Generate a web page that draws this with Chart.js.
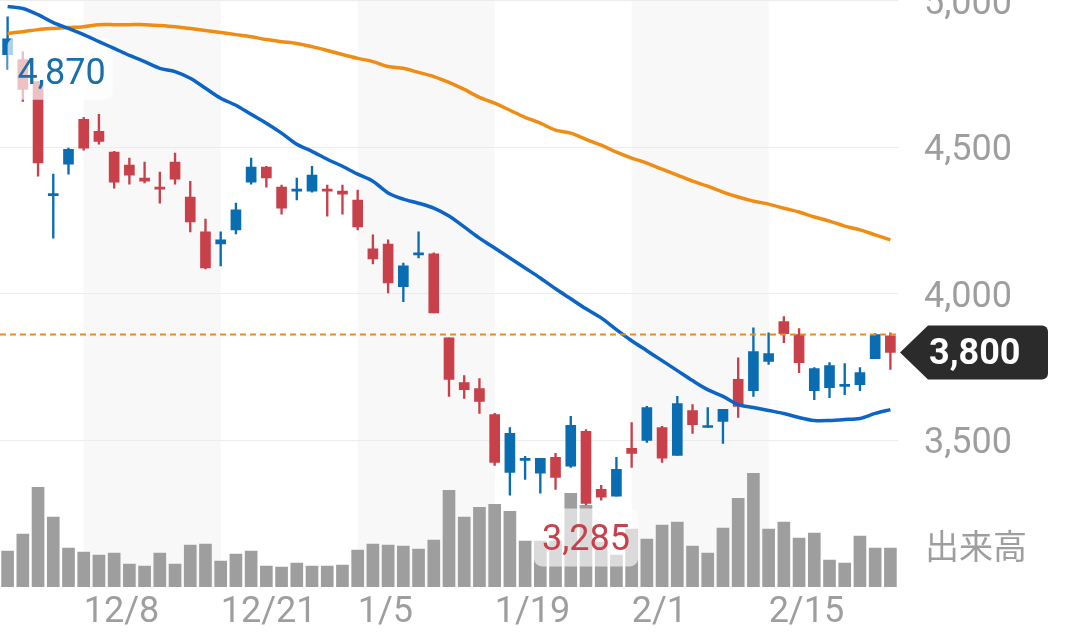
<!DOCTYPE html>
<html>
<head>
<meta charset="utf-8">
<script src="https://cdn.jsdelivr.net/npm/chart.js@4.4.1/dist/chart.umd.min.js"></script>
<style>
  html, body { margin: 0; padding: 0; background: #fff; overflow: hidden; }
  #wrap { position: absolute; left: 0; top: -47px; width: 1080px; height: 688px; }
</style>
</head>
<body>
<div id="wrap"><canvas id="chart"></canvas></div>
<script>
// 日足データ
const dates = ['12/1','12/2','12/3','12/4','12/7','12/8','12/9','12/10','12/11','12/14',
  '12/15','12/16','12/17','12/18','12/21','12/22','12/23','12/24','12/25','12/28',
  '12/29','12/30','1/4','1/5','1/6','1/7','1/8','1/12','1/13','1/14',
  '1/15','1/18','1/19','1/20','1/21','1/22','1/25','1/26','1/27','1/28',
  '1/29','2/1','2/2','2/3','2/4','2/5','2/8','2/9','2/10','2/12',
  '2/15','2/16','2/17','2/18','2/19','2/22','2/24','2/25','2/26'];
const opens = [4816,4799,4724,4335,4442,4595,4554,4483,4439,4395,
  4364,4449,4330,4211,4170,4218,4381,4432,4364,4350,
  4350,4357,4350,4320,4153,4170,4024,4133,4136,3850,
  3697,3677,3588,3391,3432,3388,3442,3412,3531,3333,
  3310,3473,3500,3544,3449,3602,3544,3565,3708,3670,
  3769,3905,3861,3670,3680,3684,3690,3779,3857];
const highs = [4945,4826,4724,4408,4497,4602,4612,4486,4463,4449,
  4415,4480,4384,4255,4211,4309,4463,4435,4371,4395,
  4435,4371,4371,4354,4201,4184,4105,4211,4140,3850,
  3721,3711,3592,3544,3446,3439,3456,3582,3537,3347,
  3442,3561,3616,3548,3650,3622,3612,3606,3782,3884,
  3867,3922,3881,3748,3765,3762,3748,3864,3867];
const lows = [4765,4656,4401,4190,4408,4490,4510,4360,4374,4378,
  4309,4374,4211,4085,4095,4204,4374,4364,4272,4320,
  4347,4265,4272,4218,4102,4003,3973,4122,3935,3650,
  3643,3592,3415,3313,3367,3320,3333,3408,3280,3296,
  3310,3408,3493,3425,3449,3524,3544,3490,3578,3650,
  3759,3833,3731,3639,3646,3656,3670,3779,3742];
const closes = [4870,4697,4446,4340,4493,4497,4520,4381,4405,4384,
  4357,4391,4245,4088,4184,4286,4432,4395,4292,4355,
  4405,4350,4340,4228,4119,4037,4095,4139,3935,3708,
  3673,3633,3425,3524,3439,3439,3374,3551,3285,3306,
  3401,3456,3612,3439,3626,3554,3548,3606,3616,3803,
  3796,3864,3765,3745,3755,3687,3731,3861,3800];
// 出来高（千株）
const volumes = [360,530,1000,700,390,350,320,340,230,210,
  340,230,420,430,260,330,360,210,200,240,
  210,210,220,370,430,420,410,380,470,970,
  700,800,830,760,460,460,460,940,820,450,
  320,580,480,620,650,410,340,590,890,1140,
  580,650,490,540,270,240,510,390,390];
const ma25 = [4980,4973,4952,4925,4905,4884,4860,4837,4813,4792,
  4769,4758,4735,4701,4667,4643,4612,4582,4548,4510,
  4486,4459,4435,4408,4384,4344,4323,4309,4292,4265,
  4228,4190,4156,4122,4088,4054,4017,3983,3949,3918,
  3878,3840,3806,3772,3738,3704,3673,3650,3622,3612,
  3602,3592,3578,3568,3568,3571,3575,3592,3605];
const ma75 = [4888,4894,4901,4905,4908,4911,4918,4918,4918,4918,
  4915,4911,4905,4898,4891,4884,4877,4867,4860,4854,
  4843,4830,4816,4803,4792,4775,4769,4755,4741,4721,
  4697,4670,4650,4626,4602,4582,4558,4548,4527,4507,
  4483,4463,4446,4425,4405,4384,4367,4347,4330,4316,
  4306,4292,4279,4262,4248,4231,4218,4201,4184];
const dateTicks = ['12/8','12/21','1/5','1/19','2/1','2/15'];
const priceTicks = [3500, 4000, 4500, 5000];

const UP = '#0a6db1';
const DOWN = '#c8404a';
const GRAY = '#9e9e9e';
const candleColors = closes.map((c, i) => c >= opens[i] ? UP : DOWN);
const fmt = v => v.toLocaleString('en-US');

function roundRect(ctx, x, y, w, h, r) {
    ctx.beginPath();
    ctx.moveTo(x + r, y);
    ctx.arcTo(x + w, y, x + w, y + h, r);
    ctx.arcTo(x + w, y + h, x, y + h, r);
    ctx.arcTo(x, y + h, x, y, r);
    ctx.arcTo(x, y, x + w, y, r);
    ctx.closePath();
}

// 2週ごとの背景帯
const bandsPlugin = {
    id: 'bands',
    beforeDraw(chart) {
        const {ctx, chartArea, scales} = chart;
        ctx.save();
        ctx.fillStyle = '#f8f8f8';
        for (let k = 0; k + 1 < dateTicks.length; k += 2) {
            const x1 = scales.x.getPixelForValue(dates.indexOf(dateTicks[k]));
            const x2 = scales.x.getPixelForValue(dates.indexOf(dateTicks[k + 1]));
            ctx.fillRect(x1, chartArea.top, x2 - x1, chartArea.bottom - chartArea.top);
        }
        ctx.restore();
    }
};

// 高値・安値ラベル（ローソク足の上、移動平均線の下）
const labelPlugin = {
    id: 'extremes',
    afterDatasetDraw(chart, args) {
        if (args.meta.label !== 'body') return;
        const {ctx, scales} = chart;
        const x = scales.x, y = scales.y;
        ctx.save();
        ctx.font = '36px Roboto';
        ctx.textBaseline = 'middle';
        ctx.fillStyle = 'rgba(255,255,255,0.68)';

        const hiVal = Math.max(...closes), hiIdx = closes.indexOf(hiVal);
        const hx = x.getPixelForValue(hiIdx) + 10;
        const hy = y.getPixelForValue(hiVal) + 33;
        roundRect(ctx, hx - 10, hy - 34, 105, 62, 8);
        ctx.fill();

        const loVal = Math.min(...closes), loIdx = closes.indexOf(loVal);
        const lx = x.getPixelForValue(loIdx);
        const ly = y.getPixelForValue(loVal) + 34;
        ctx.fillStyle = 'rgba(255,255,255,0.62)';
        roundRect(ctx, lx - 52, ly - 29, 104, 58, 8);
        ctx.fill();

        ctx.fillStyle = '#1a6fa8';
        ctx.textAlign = 'left';
        ctx.fillText(fmt(hiVal), hx, hy + 3);
        ctx.fillStyle = DOWN;
        ctx.textAlign = 'center';
        ctx.fillText(fmt(loVal), lx, ly + 4);
        ctx.restore();
    }
};

// 前日終値ライン、価格目盛、現在値タグ、出来高ラベル
const overlayPlugin = {
    id: 'overlay',
    afterDatasetsDraw(chart) {
        const {ctx, chartArea, scales} = chart;
        const py = scales.y.getPixelForValue(closes[closes.length - 2]);
        ctx.save();
        ctx.strokeStyle = '#ec8c1c';
        ctx.lineWidth = 2;
        ctx.setLineDash([6, 4]);
        ctx.beginPath();
        ctx.moveTo(chartArea.left, py);
        ctx.lineTo(chartArea.right, py);
        ctx.stroke();
        ctx.restore();
    },
    afterDraw(chart) {
        const {ctx, chartArea, scales} = chart;
        ctx.save();
        ctx.textAlign = 'left';
        ctx.textBaseline = 'middle';

        ctx.fillStyle = GRAY;
        ctx.font = '36px Roboto';
        scales.y.ticks.forEach(t => {
            ctx.fillText(fmt(t.value), chartArea.right + 26, scales.y.getPixelForValue(t.value) + 4);
        });

        const last = closes[closes.length - 1];
        const cy = scales.y.getPixelForValue(last);
        const x0 = chartArea.right + 2;
        ctx.fillStyle = '#2b2b2b';
        ctx.beginPath();
        ctx.moveTo(x0, cy);
        ctx.lineTo(x0 + 28, cy - 27);
        ctx.lineTo(x0 + 142, cy - 27);
        ctx.arcTo(x0 + 148, cy - 27, x0 + 148, cy - 21, 6);
        ctx.lineTo(x0 + 148, cy + 21);
        ctx.arcTo(x0 + 148, cy + 27, x0 + 142, cy + 27, 6);
        ctx.lineTo(x0 + 28, cy + 27);
        ctx.closePath();
        ctx.fill();
        ctx.fillStyle = '#fff';
        ctx.font = 'bold 36px Roboto';
        ctx.fillText(fmt(last), x0 + 29, cy + 3);

        ctx.fillStyle = GRAY;
        ctx.font = '34px "Noto Sans CJK JP"';
        ctx.fillText('出来高', chartArea.right + 27, chartArea.bottom - 41);
        ctx.restore();
    }
};

new Chart(document.getElementById('chart'), {
    data: {
        labels: dates,
        datasets: [
            {
                type: 'line', label: '25日', data: ma25, yAxisID: 'y',
                borderColor: '#0b64c6', borderWidth: 3.5, pointRadius: 0, tension: 0.3, order: 0
            },
            {
                type: 'line', label: '75日', data: ma75, yAxisID: 'y',
                borderColor: '#f08c14', borderWidth: 3.5, pointRadius: 0, tension: 0.3, order: 0
            },
            {
                type: 'bar', label: 'body', data: opens.map((o, i) => [o, closes[i]]), yAxisID: 'y',
                backgroundColor: candleColors, barThickness: 10, minBarLength: 2, grouped: false, order: 1
            },
            {
                type: 'bar', label: 'wick', data: lows.map((l, i) => [l, highs[i]]), yAxisID: 'y',
                backgroundColor: candleColors, barThickness: 1.7, grouped: false, order: 2
            },
            {
                type: 'bar', label: '出来高', data: volumes, yAxisID: 'vol',
                backgroundColor: GRAY, barThickness: 12, grouped: false, order: 5
            }
        ]
    },
    options: {
        responsive: true,
        maintainAspectRatio: false,
        animation: false,
        layout: { autoPadding: false, padding: 0 },
        plugins: { legend: { display: false }, tooltip: { enabled: false } },
        scales: {
            x: {
                type: 'category',
                offset: true,
                grid: { display: false },
                border: { display: false },
                afterFit: s => { s.height = 54; },
                ticks: {
                    autoSkip: false, maxRotation: 0, minRotation: 0, align: 'start', padding: -2,
                    color: GRAY, font: { family: 'Roboto', size: 36, lineHeight: 1.1 },
                    callback: (v, i) => dateTicks.includes(dates[i]) ? dates[i] : ''
                }
            },
            y: {
                position: 'right',
                min: 3000, max: 5000,
                afterFit: s => { s.width = 182; },
                afterBuildTicks: s => { s.ticks = priceTicks.map(v => ({ value: v })); },
                grid: { color: '#ececec', drawTicks: false },
                border: { display: false },
                // 目盛文字は overlayPlugin で少し下げて描く
                ticks: {
                    padding: 26, color: 'rgba(0,0,0,0)', font: { family: 'Roboto', size: 36 },
                    callback: v => fmt(v)
                }
            },
            vol: {
                display: false,
                min: 0, max: 5880
            }
        }
    },
    plugins: [bandsPlugin, labelPlugin, overlayPlugin]
});
</script>
</body>
</html>
